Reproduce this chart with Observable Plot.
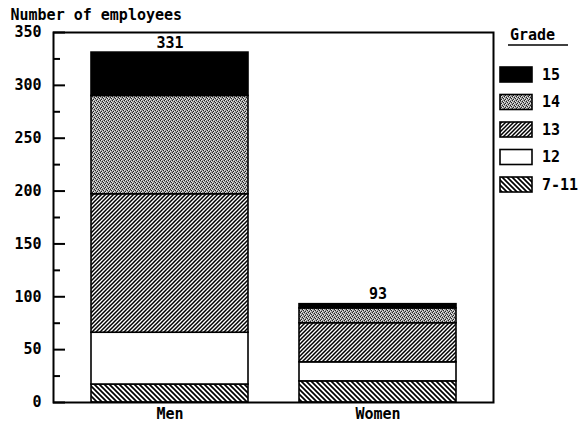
<!DOCTYPE html>
<html><head><meta charset="utf-8">
<script src="https://cdn.jsdelivr.net/npm/d3@7"></script>
<script src="https://cdn.jsdelivr.net/npm/@observablehq/plot@0.6"></script>
<style>body{margin:0;background:#fff} #chart{width:580px;height:422px}</style>
</head><body><div id="chart"></div>
<script>
const groups = ["Men", "Women"];
const grades = ["7-11", "12", "13", "14", "15"];
const men = [17, 49, 131, 93, 41];
const women = [20, 18, 37, 14, 4];
const totals = [331, 93];
const yTicks = [0, 50, 100, 150, 200, 250, 300, 350];
const yMinor = [25, 75, 125, 175, 225, 275, 325];
const legendOrder = ["15", "14", "13", "12", "7-11"];
const title = "Number of employees";
const legendTitle = "Grade";

const series = [men, women];
const rows = groups.flatMap((g, i) => grades.map((gr, j) => ({group: g, grade: gr, count: series[i][j]})));
const totalRows = groups.map((g, i) => ({group: g, total: totals[i]}));
const fills = ["url(#p711)", "#ffffff", "url(#p13)", "url(#p14)", "#000000"];
const fillOf = Object.fromEntries(grades.map((g, i) => [g, fills[i]]));

function defs() {
  const d = d3.create("svg:defs");
  const p13 = d.append("pattern").attr("id", "p13").attr("patternUnits", "userSpaceOnUse").attr("width", 4).attr("height", 4);
  p13.append("rect").attr("width", 4).attr("height", 4).attr("fill", "#fff");
  p13.append("path").attr("d", "M-1,1L1,-1M0,4L4,0M3,5L5,3").attr("stroke", "#000").attr("stroke-width", 1.5);
  const p7 = d.append("pattern").attr("id", "p711").attr("patternUnits", "userSpaceOnUse").attr("width", 5).attr("height", 5);
  p7.append("rect").attr("width", 5).attr("height", 5).attr("fill", "#fff");
  p7.append("path").attr("d", "M-1,4L1,6M0,0L5,5M4,-1L6,1").attr("stroke", "#000").attr("stroke-width", 1.7);
  const p14 = d.append("pattern").attr("id", "p14").attr("patternUnits", "userSpaceOnUse").attr("width", 4).attr("height", 4);
  p14.append("rect").attr("width", 4).attr("height", 4).attr("fill", "#9a9a9a");
  [[0,0],[2,1],[1,3],[3,2]].forEach(([x, y]) =>
    p14.append("rect").attr("x", x).attr("y", y).attr("width", 1).attr("height", 1).attr("fill", "#222"));
  [[1,0],[3,1],[0,2],[2,3]].forEach(([x, y]) =>
    p14.append("rect").attr("x", x).attr("y", y).attr("width", 1).attr("height", 1).attr("fill", "#e8e8e8"));
  return d.node();
}

const chart = Plot.plot({
  width: 580,
  height: 422,
  marginLeft: 53,
  marginRight: 87,
  marginTop: 32,
  marginBottom: 20,
  style: {fontFamily: "DejaVu Sans Mono", fontSize: "15px", fontWeight: "bold", color: "#000", background: "#fff"},
  x: {domain: groups, paddingInner: 0.247, paddingOuter: 0.177, label: null},
  y: {domain: [0, 350], label: null},
  color: {domain: grades, range: fills},
  marks: [
    defs,
    Plot.barY(rows, {x: "group", y: "count", fill: "grade", stroke: "#000", strokeWidth: 1.6}),
    Plot.text(totalRows, {x: "group", y: "total", text: d => String(d.total), lineAnchor: "bottom", dy: -5}),
    Plot.frame({stroke: "#000", strokeWidth: 2}),
    Plot.axisY(yTicks, {tickSize: 0, tickPadding: 12}),
    Plot.axisY(yTicks, {tickSize: -12, text: null, strokeWidth: 2}),
    Plot.axisY(yMinor, {tickSize: -7, text: null, strokeWidth: 2}),
    Plot.axisX({tickSize: 0, tickPadding: 6}),
    Plot.text([title], {frameAnchor: "top-left", dx: -43, dy: -13, textAnchor: "start", lineAnchor: "bottom", letterSpacing: "0.6px"})
  ]
});
document.getElementById("chart").append(chart);

// Legend
const svg = d3.select(chart);
const lg = svg.append("g").attr("font-family", "DejaVu Sans Mono").attr("font-size", 15).attr("font-weight", "bold").attr("text-anchor", "start");
lg.append("text").attr("x", 510).attr("y", 40).text(legendTitle);
lg.append("line").attr("x1", 508).attr("x2", 568).attr("y1", 45).attr("y2", 45).attr("stroke", "#000").attr("stroke-width", 1.5);
legendOrder.forEach((g, i) => {
  const cy = 74.5 + i * 27.5;
  lg.append("rect").attr("x", 500).attr("y", cy - 7.5).attr("width", 32).attr("height", 15)
    .attr("fill", fillOf[g]).attr("stroke", "#000").attr("stroke-width", 1.6);
  lg.append("text").attr("x", 542).attr("y", cy).attr("dy", "0.35em").text(g);
});
</script></body></html>
